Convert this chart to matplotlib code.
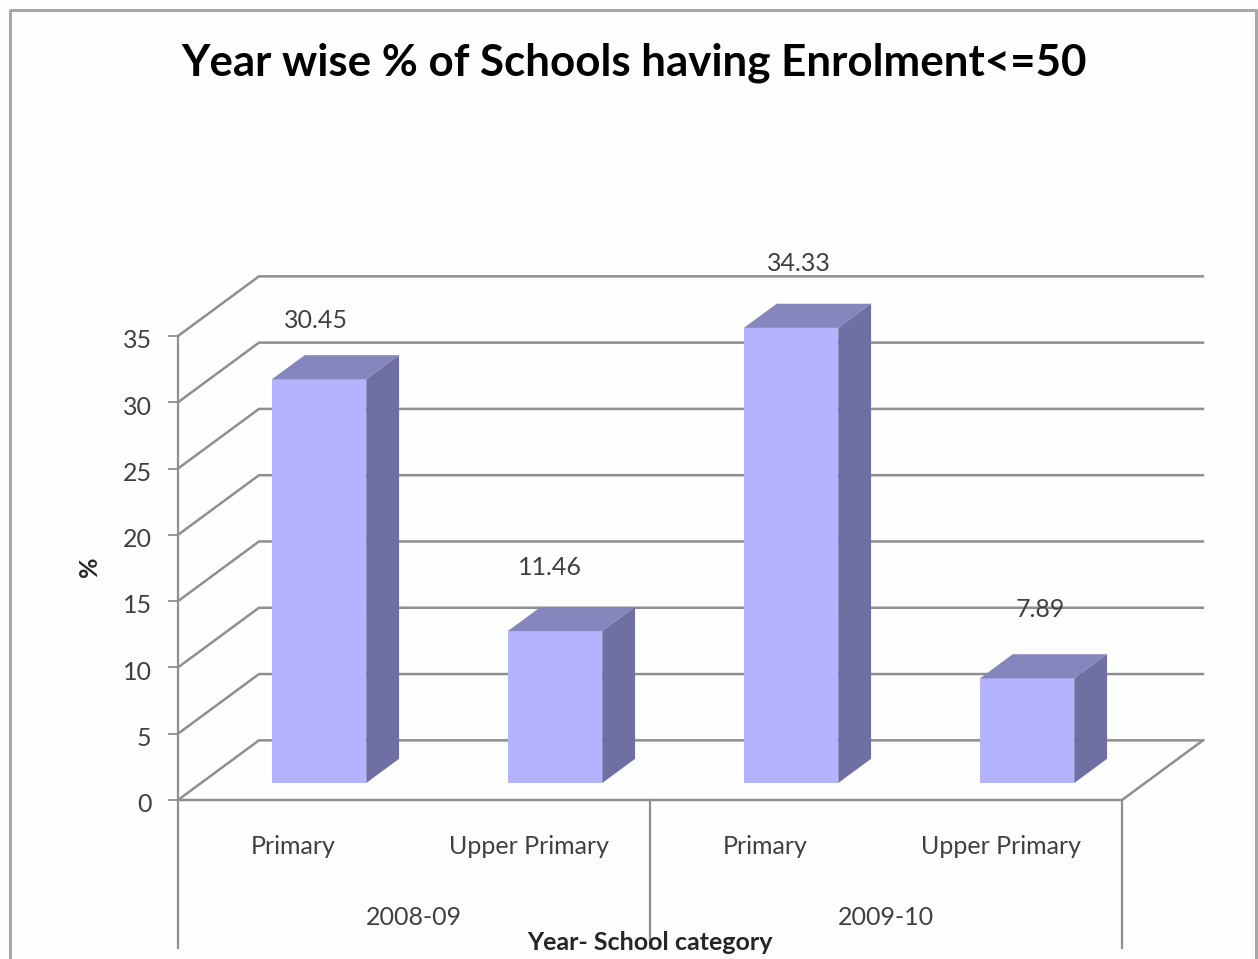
import matplotlib
matplotlib.use('Agg')
import matplotlib.pyplot as plt
from matplotlib.lines import Line2D
from matplotlib.patches import Polygon, Rectangle
from matplotlib.transforms import ScaledTranslation

plt.rcParams['font.family'] = ['Lato', 'DejaVu Sans']

categories = ['Primary', 'Upper Primary', 'Primary', 'Upper Primary']
years = ['2008-09', '2009-10']
values = [30.45, 11.46, 34.33, 7.89]
value_labels = ['30.45', '11.46', '34.33', '7.89']
y_ticks = [0, 5, 10, 15, 20, 25, 30, 35]

# fake 3D depth of the floor, in data units
DEPTH_X = 0.343
DEPTH_Y = 4.5
BAR_WIDTH = 0.4
BAR_START = 0.285
BAR_END = 0.69
BELOW = -11.2

# where the excel labels ended up, pixels from the bar top centre
label_nudge = [(-3, 59), (-5, 64), (8, 64), (13, 69)]

GRID = '#8f8f8f'
TEXT = '#404040'
FRONT = '#b3b3ff'
TOP = '#8686bf'
SIDE = '#6f6fa3'

W, H = 1258, 959
fig = plt.figure(figsize=(W / 100, H / 100), dpi=100, facecolor='#fefefe')
ax = fig.add_axes([178 / W, (H - 800) / H, 944 / W, 464 / H])
ax.set_xlim(-0.5, 3.5)
ax.set_ylim(0, 35)
ax.patch.set_visible(False)
for s in ax.spines.values():
    s.set_visible(False)

x0, x1 = ax.get_xlim()

# back wall and side wall lines
for v in y_ticks:
    ax.plot([x0, x0 + DEPTH_X, x1 + DEPTH_X], [v, v + DEPTH_Y, v + DEPTH_Y],
            color=GRID, lw=1.8, clip_on=False, zorder=1, solid_joinstyle='miter')

# floor front, right edge and the multi level axis lines
ax.plot([x0, x1, x1 + DEPTH_X], [0, 0, DEPTH_Y], color=GRID, lw=1.8, clip_on=False, zorder=1)
ax.plot([x0, x0], [35, BELOW], color=GRID, lw=1.6, clip_on=False, zorder=1)
ax.plot([1.5, 1.5], [0, BELOW], color=GRID, lw=1.6, clip_on=False, zorder=1)
ax.plot([x1, x1], [0, BELOW], color=GRID, lw=1.6, clip_on=False, zorder=1)

for i, v in enumerate(values):
    left = i - BAR_WIDTH / 2 + DEPTH_X * BAR_START
    right = left + BAR_WIDTH
    base = DEPTH_Y * BAR_START
    top = v + base
    dx = DEPTH_X * (BAR_END - BAR_START)
    dy = DEPTH_Y * (BAR_END - BAR_START)
    ax.add_patch(Rectangle((left, base), BAR_WIDTH, v, fc=FRONT, ec='none', zorder=3, clip_on=False))
    ax.add_patch(Polygon([(left, top), (right, top), (right + dx, top + dy), (left + dx, top + dy)],
                         fc=TOP, ec='none', zorder=3, clip_on=False))
    ax.add_patch(Polygon([(right, base), (right + dx, base + dy), (right + dx, top + dy), (right, top)],
                         fc=SIDE, ec='none', zorder=3, clip_on=False))
    nudge_x, nudge_y = label_nudge[i]
    ax.annotate(value_labels[i], (left + BAR_WIDTH / 2, top), xytext=(nudge_x, nudge_y),
                textcoords='offset pixels', ha='center', va='center',
                fontsize=18, color=TEXT, zorder=4, annotation_clip=False)

ax.set_yticks(y_ticks)
ax.set_xticks(range(len(categories)))
ax.set_xticklabels(categories)
ax.tick_params(axis='y', length=7, width=1.3, color=GRID, pad=12, labelsize=18, labelcolor=TEXT)
ax.tick_params(axis='x', length=0, pad=25, labelsize=18, labelcolor=TEXT)

# tick labels sit a little lower than their ticks in the original
shift = ScaledTranslation(0, -2 / 72, fig.dpi_scale_trans)
for label in ax.get_yticklabels():
    label.set_transform(label.get_transform() + shift)
shift_x = ScaledTranslation(-2 / 72, 0, fig.dpi_scale_trans)
for label in ax.get_xticklabels():
    label.set_transform(label.get_transform() + shift_x)

# year level of the category axis
for j, year in enumerate(years):
    ax.text(2 * j + 0.5, -8.9, year, ha='center', va='center', fontsize=18, color=TEXT)

ax.text(1.5, -10.75, 'Year- School category', ha='center', va='center', fontsize=18,
        fontweight='bold', color='#262626')

fig.text(90 / W, 1 - 567 / H, '%', rotation=90, ha='center', va='center', fontsize=18,
         fontweight='bold', color='#262626')
fig.text(634 / W, 1 - 63 / H, 'Year wise % of Schools having Enrolment<=50', ha='center', va='center',
         fontsize=31.6, fontweight='bold', color='black')

# chart border, cut off at the bottom of the screenshot
fig.add_artist(Line2D([10 / W, 10 / W, 1256 / W, 1256 / W], [0, 1 - 10 / H, 1 - 10 / H, 0],
                      color='#a8a8a8', lw=2.2))

fig.savefig('out.png', dpi=100, facecolor=fig.get_facecolor())
plt.close(fig)
